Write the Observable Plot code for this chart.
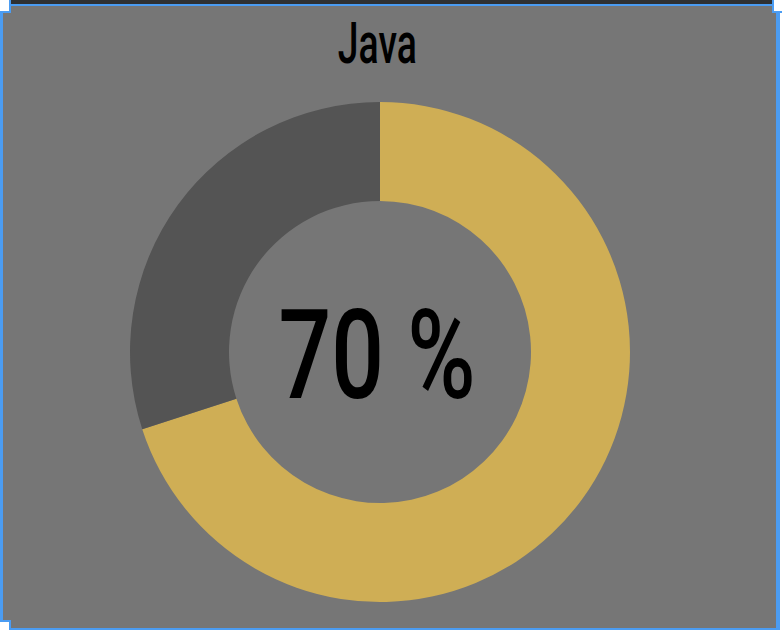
<!DOCTYPE html>
<html>
<head>
<meta charset="utf-8">
<script src="https://cdn.jsdelivr.net/npm/d3@7"></script>
<script src="https://cdn.jsdelivr.net/npm/@observablehq/plot@0.6"></script>
<style>
  html, body { margin: 0; padding: 0; background: #ffffff; }
  #wrap { position: relative; width: 782px; height: 630px; overflow: hidden; background: #ffffff; }
  #strip { position: absolute; left: 10px; top: 0; width: 764px; height: 4px; background: #2f3133; z-index: 2; }
  #panel { position: absolute; left: 0; top: 3px; width: 780px; height: 627px; box-sizing: border-box;
           border-left: 3px solid #4b9cf2; border-right: 4px solid #4b9cf2; border-top: 3px solid #4b9cf2; border-bottom: 2px solid #4b9cf2;
           background: #767676; }
  .corner { position: absolute; width: 9px; height: 11px; background: #ffffff; border-color: #4b9cf2; border-style: solid; border-width: 0; z-index: 3; }
  #title { position: absolute; left: 177.5px; width: 400px; top: 14px; text-align: center;
           font-family: Roboto, "DejaVu Sans", sans-serif; font-weight: 500; font-size: 58px; line-height: 58px; color: #000; }
  #title span { display: inline-block; transform-origin: 50% 50%; }
  #chart { position: absolute; left: 0; top: 80px; }
</style>
</head>
<body>
<div id="wrap">
  <div id="panel"></div>
  <div id="strip"></div>
  <div class="corner" style="left:0;top:0;border-right-width:2px;border-bottom-width:2px;"></div>
  <div class="corner" style="left:772px;top:0;width:8px;border-left-width:2px;border-bottom-width:2px;"></div>
  <div class="corner" style="left:0;top:620px;height:8px;border-right-width:2px;border-top-width:2px;"></div>
  <div id="title"><span></span></div>
  <div id="chart"></div>
</div>
<script>
// ---- data ----
const categories = ["Java", "Other"];
const values = [70, 30];
const colors = ["#cfae55", "#545454"];
const titleText = "Java";
const centerLabel = "70 %";

const data = categories.map((c, i) => ({category: c, value: values[i]}));
const colorScale = Plot.scale({color: {type: "ordinal", domain: categories, range: colors}});

// Title
const tspan = document.querySelector("#title span");
tspan.textContent = titleText;

const innerRatio = 0.604;

function donut(index, scales, channels, dimensions, context) {
  const cx = scales.x(0), cy = scales.y(0);
  const R = scales.x(1) - cx;
  const arcs = d3.pie().sort(null).value(d => d.value)(data);
  const arc = d3.arc().innerRadius(R * innerRatio).outerRadius(R);
  const g = d3.create("svg:g").attr("transform", `translate(${cx},${cy})`);
  g.selectAll("path").data(arcs).join("path")
    .attr("d", arc)
    .attr("fill", d => colorScale.apply(d.data.category));
  return g.node();
}

const chart = Plot.plot({
  width: 782,
  height: 545,
  margin: 0,
  style: {background: "transparent", overflow: "visible"},
  x: {domain: [-1, 1], range: [130, 630], axis: null},
  y: {domain: [-1, 1], range: [522, 22], axis: null},
  marks: [
    donut,
    Plot.text([centerLabel], {
      x: () => 0, y: () => 0, text: d => d,
      fontFamily: "Roboto, 'DejaVu Sans', sans-serif",
      fontSize: 124, fontWeight: 500, fill: "#000",
      dx: -3.5, dy: 6
    })
  ]
});
document.getElementById("chart").appendChild(chart);

// condense texts to match narrow typeface
chart.querySelectorAll('g[aria-label="text"] text').forEach(t => {
  t.setAttribute("textLength", 197);
  t.setAttribute("lengthAdjust", "spacingAndGlyphs");
});
const w = tspan.getBoundingClientRect().width;
if (w > 0) tspan.style.transform = `scaleX(${79 / w})`;
</script>
</body>
</html>
